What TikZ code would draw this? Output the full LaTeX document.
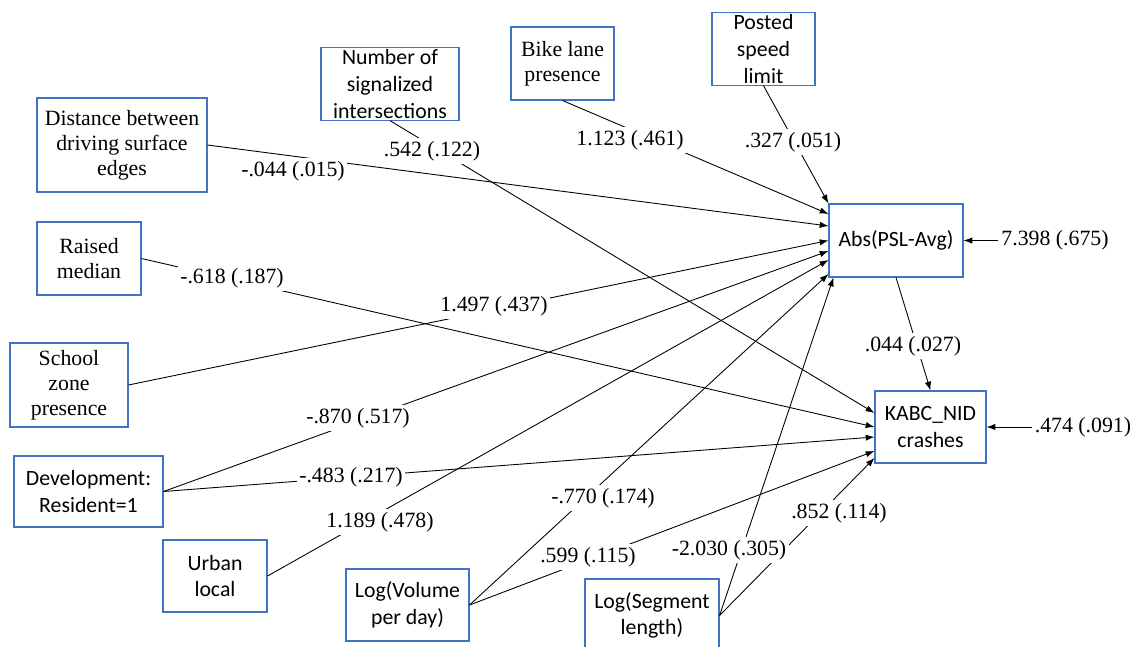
\documentclass[tikz,border=0pt]{standalone}
\usepackage{fontspec}
\setmainfont{Liberation Serif}
\newfontfamily\calibri{Carlito}
\usetikzlibrary{arrows.meta}

\definecolor{boxblue}{RGB}{68,114,196}

\begin{document}
\begin{tikzpicture}[
    tbox/.style={draw=boxblue, line width=0.6pt, align=center, inner sep=1pt,
      font=\fontsize{12.4}{14.2}\selectfont},
    sbox/.style={tbox, font=\calibri\fontsize{12.4}{15.2}\selectfont},
    coef/.style={fill=white, inner sep=1.5pt, font=\fontsize{12.4}{14.2}\selectfont},
    link/.style={-{Latex[length=5pt,width=3.6pt]}, line width=0.5pt}
  ]
  \useasboundingbox[fill=white] (0,0) rectangle (22.72,-12.94);

  % Outcomes
  \node[sbox, minimum width=2.68cm, minimum height=1.46cm] (abs) at (17.92,-4.81) {Abs(PSL-Avg)};
  \node[sbox, minimum width=2.22cm, minimum height=1.44cm] (kabc) at (18.61,-8.54) {KABC\_NID\\crashes};

  % Predictors
  \node[tbox, minimum width=3.40cm, minimum height=1.88cm] (dist) at (2.44,-2.90) {Distance between\\driving surface\\edges};
  \node[sbox, minimum width=2.76cm, minimum height=1.44cm] (nsig) at (7.80,-1.68) {Number of\\signalized\\intersections};
  \node[tbox, minimum width=2.06cm, minimum height=1.46cm] (bike) at (11.25,-1.27) {Bike lane\\presence};
  \node[sbox, minimum width=2.06cm, minimum height=1.44cm] (post) at (15.27,-0.98) {Posted\\speed\\limit};
  \node[tbox, minimum width=2.08cm, minimum height=1.46cm] (raised) at (1.78,-5.17) {Raised\\median};
  \node[tbox, minimum width=2.36cm, minimum height=1.68cm] (school) at (1.38,-7.70) {School\\zone\\presence};
  \node[sbox, minimum width=2.98cm, minimum height=1.42cm] (dev) at (1.77,-9.83) {Development:\\Resident=1};
  \node[sbox, minimum width=2.08cm, minimum height=1.44cm] (urban) at (4.30,-11.52) {Urban\\local};
  \node[sbox, minimum width=2.46cm, minimum height=1.44cm] (vol) at (8.15,-12.10) {Log(Volume\\per day)};
  \node[sbox, minimum width=2.68cm, minimum height=1.46cm] (seg) at (13.04,-12.31) {Log(Segment\\length)};

  % Paths into Abs(PSL-Avg)
  \draw[link] (dist.east) -- ([yshift=2.9mm]abs.west);
  \draw[link] (bike.south) -- ([yshift=5.3mm]abs.west);
  \draw[link] (post.south) -- (abs.north west);
  \draw[link] (school.east) -- (abs.west);
  \draw[link] (dev.east) -- ([yshift=-2.1mm]abs.west);
  \draw[link] (urban.east) -- ([yshift=-3.9mm]abs.west);
  \draw[link] (vol.east) -- ([yshift=-6.7mm]abs.west);
  \draw[link] (seg.east) -- ([xshift=1mm]abs.south west);

  % Paths into KABC_NID crashes
  \draw[link] (nsig.south) -- ([yshift=2.8mm]kabc.west);
  \draw[link] (raised.east) -- (kabc.west);
  \draw[link] (dev.east) -- ([yshift=-2mm]kabc.west);
  \draw[link] (vol.east) -- ([yshift=-4.8mm]kabc.west);
  \draw[link] (seg.east) -- ([yshift=-6.2mm]kabc.west);
  \draw[link] (abs.south) -- (kabc.north);

  % Coefficients (s.e.)
  \node[coef] (cdist) at (5.86,-3.42) {-.044 (.015)};
  \node[coef] (cnsig) at (8.64,-3.02) {.542 (.122)};
  \node[coef] (cbike) at (12.60,-2.80) {1.123 (.461)};
  \node[coef] (cpost) at (15.86,-2.84) {.327 (.051)};
  \node[coef] (craised) at (4.64,-5.56) {-.618 (.187)};
  \node[coef] (cschool) at (9.88,-6.12) {1.497 (.437)};
  \node[coef] (cdeva) at (7.16,-8.36) {-.870 (.517)};
  \node[coef] (cdevk) at (7.02,-9.54) {-.483 (.217)};
  \node[coef] (curban) at (7.60,-10.44) {1.189 (.478)};
  \node[coef] (cvola) at (12.06,-9.96) {-.770 (.174)};
  \node[coef] (cvolk) at (11.76,-11.14) {.599 (.115)};
  \node[coef] (csega) at (14.58,-11.00) {-2.030 (.305)};
  \node[coef] (csegk) at (16.78,-10.26) {.852 (.114)};
  \node[coef] (cabs) at (18.26,-6.92) {.044 (.027)};

  % Error variances
  \node[coef] (eabs) at (21.10,-4.81) {7.398 (.675)};
  \node[coef] (ekabc) at (21.66,-8.54) {.474 (.091)};
  \draw[link] (eabs.west) -- (abs.east);
  \draw[link] (ekabc.west) -- (kabc.east);
\end{tikzpicture}
\end{document}
